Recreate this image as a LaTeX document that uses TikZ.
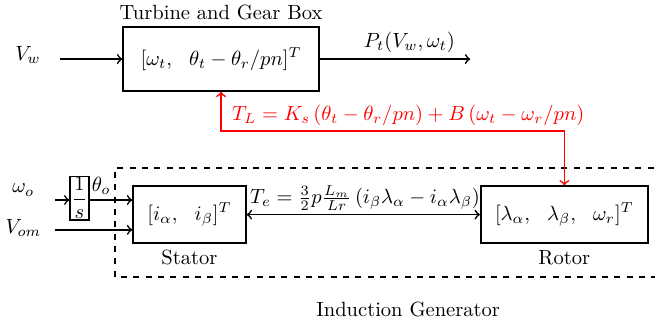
\documentclass[tikz,border=0pt]{standalone}
\usepackage{amsmath}
\usetikzlibrary{positioning}

\begin{document}
\begin{tikzpicture}[
    block/.style={rectangle, draw, thick, inner sep=0pt},
    directed/.style={->, thick}
]
    \useasboundingbox (0,0) rectangle (11.2,-5.575);
        \node[block, minimum width=3.35cm, minimum height=1.09cm] (turbine) at (3.78,-1.01) {$[\omega_t,\ \ \theta_t-\theta_r/pn]^T$};
        \node (tgb) at (3.78,-0.22) {Turbine and Gear Box};
        \node (Vw) at (0.48,-0.94) {$V_w$};
        \coordinate (Vwin) at (1.03,-1.01);
        \coordinate (Pout) at (8.04,-1.01);
        \node (Pt) at (7.0,-0.72) {$P_t(V_w,\omega_t)$};
        \node[red] (TL) at (6.98,-1.97) {$T_L=K_s\,(\theta_t-\theta_r/pn)+B\,(\omega_t-\omega_r/pn)$};

        \node[block, minimum width=1.93cm, minimum height=0.97cm] (stator) at (3.24,-3.67) {$[i_\alpha,\ \ i_\beta]^T$};
        \node (statorlbl) at (3.24,-4.41) {Stator};
        \node[block, minimum width=2.86cm, minimum height=0.97cm] (rotor) at (9.65,-3.67) {$[\lambda_\alpha,\ \ \lambda_\beta,\ \ \omega_r]^T$};
        \node (rotorlbl) at (9.65,-4.41) {Rotor};
        \node[inner sep=1pt] (Te) at (6.24,-3.39) {$T_e=\frac{3}{2}p\frac{L_m}{Lr}\,(i_\beta\lambda_\alpha-i_\alpha\lambda_\beta)$};
        \node[block, minimum width=0.32cm, minimum height=0.74cm] (integ) at (1.36,-3.39) {$\dfrac{1}{s}$};
        \node (wo) at (0.4,-3.25) {$\omega_o$};
        \node (Vom) at (0.4,-3.9) {$V_{om}$};
        \node (thetao) at (1.73,-3.18) {$\theta_o$};
        \coordinate (woin) at (0.94,-3.42);
        \coordinate (Vomin) at (0.94,-3.93);
        \node (IG) at (6.98,-5.3) {Induction Generator};
    \draw [thick, dashed] (11.6,-2.87) -- (1.97,-2.87) -- (1.97,-4.74) -- (11.6,-4.74);
    \draw [directed] (Vwin) -- (turbine.west |- Vwin);
    \draw [directed] (turbine.east |- Pout) -- (Pout);
    \draw [<->, thick, red] (turbine.south) -- ++(0,-0.67) -| (rotor.north);
    \draw [directed] (woin) -- (integ.west |- woin);
    \draw [directed] (integ.east |- woin) -- (stator.west |- woin);
    \draw [directed] (Vomin) -- (stator.west |- Vomin);
    \draw [<->, thick] (stator.east) -- (rotor.west);

    \end{tikzpicture}
\end{document}
